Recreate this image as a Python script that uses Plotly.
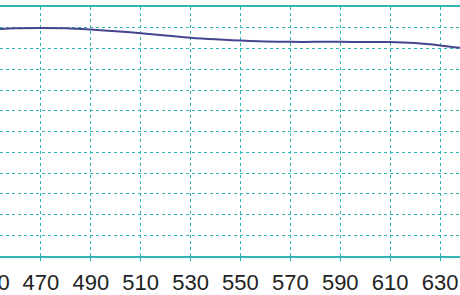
import plotly.graph_objects as go

wavelength = [450, 460, 470, 480, 490, 500, 510, 520, 530, 540, 550, 560, 570, 580, 590, 600, 610, 620, 630, 640]
value = [109.1, 109.7, 109.9, 109.7, 109.1, 108.3, 107.4, 106.3, 105.2, 104.4, 103.8, 103.4, 103.2, 103.2, 103.2, 103.1, 103.1, 102.6, 101.5, 100.0]

x_range = [453.6, 638]
y_range = [0, 120]
tick_vals = list(range(450, 640, 20))

grid = "#30b5b5"
fig = go.Figure()
fig.add_trace(go.Scatter(x=wavelength, y=value, mode="lines", line=dict(color="#45458f", width=2, shape="spline", smoothing=1), hoverinfo="skip"))

fig.update_layout(
    width=460, height=295,
    margin=dict(l=0, r=0, t=7, b=31),
    paper_bgcolor="white", plot_bgcolor="white",
    showlegend=False,
    font=dict(family="Arial, Liberation Sans, sans-serif", size=22, color="#222222"),
)
fig.update_xaxes(
    range=x_range, tickvals=tick_vals, showgrid=True, gridcolor=grid, griddash="dot", gridwidth=1.2,
    showline=True, linecolor=grid, linewidth=2, mirror=True,
    ticks="outside", ticklen=3, tickcolor=grid, tickwidth=1, zeroline=False,
    ticklabelstandoff=3,
)
fig.update_yaxes(
    range=y_range, dtick=10, showgrid=True, gridcolor=grid, griddash="dot", gridwidth=1.2,
    showticklabels=False, showline=False, zeroline=False, ticks="",
)
# partially visible tick label for the first tick (outside the axis range)
first = tick_vals[0]
fig.add_annotation(
    x=(first - x_range[0]) / (x_range[1] - x_range[0]), xref="paper",
    y=0, yref="paper", yanchor="top", yshift=-12,
    text=str(first), showarrow=False, xanchor="center",
    font=dict(size=22, color="#222222"),
)
fig.write_html("out.html")
